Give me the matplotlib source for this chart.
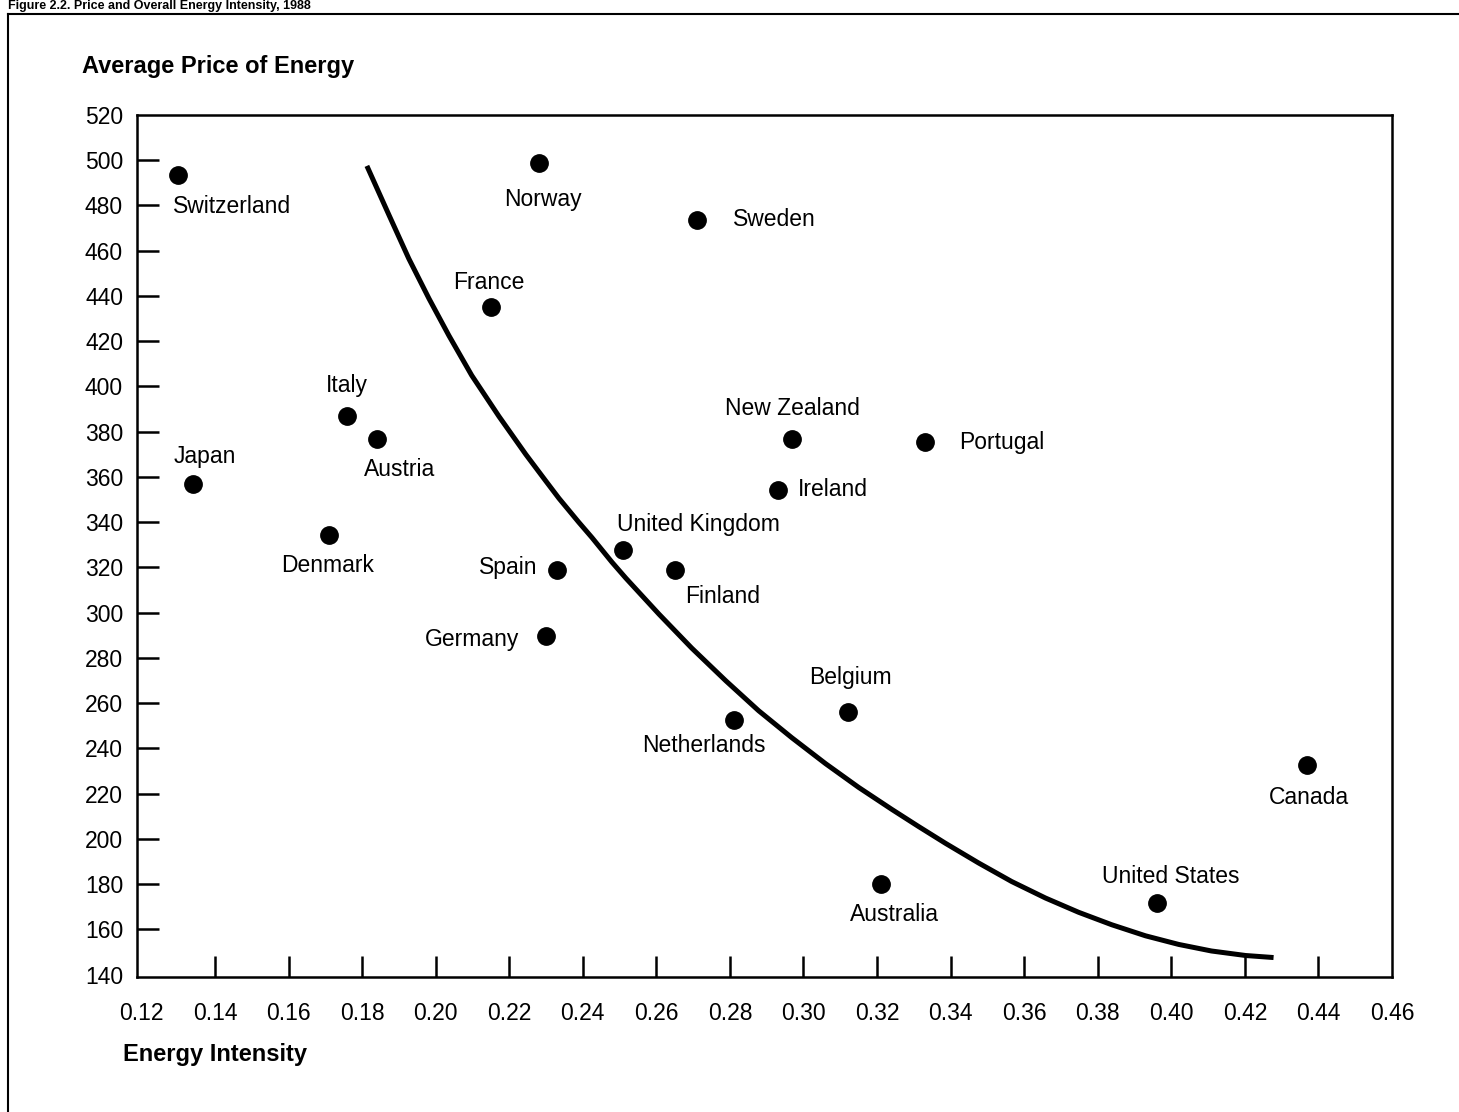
import matplotlib.pyplot as plt
from matplotlib.lines import Line2D

plt.rcParams['font.family'] = ['Liberation Sans', 'DejaVu Sans']

# Country data: energy intensity vs average price of energy
countries = ["Switzerland", "Norway", "Sweden", "France", "Italy", "Austria",
             "Japan", "Denmark", "New Zealand", "Portugal", "Ireland",
             "United Kingdom", "Spain", "Finland", "Germany", "Belgium",
             "Netherlands", "Canada", "Australia", "United States"]
intensity = [0.130, 0.228, 0.271, 0.215, 0.176, 0.184,
             0.134, 0.171, 0.297, 0.333, 0.293,
             0.251, 0.233, 0.265, 0.230, 0.312,
             0.281, 0.437, 0.321, 0.396]
price = [493.5, 498.8, 473.7, 435.3, 386.8, 376.7,
         356.8, 334.3, 376.7, 375.3, 354.1,
         327.7, 318.9, 318.9, 289.7, 256.2,
         252.7, 232.9, 180.0, 171.6]

# Fitted curve
curve_x = [0.1813, 0.1873, 0.1927, 0.1982, 0.2036, 0.2098, 0.2172, 0.2245,
           0.2300, 0.2335, 0.2389, 0.2425, 0.2479, 0.2517, 0.2607, 0.2696,
           0.2789, 0.2878, 0.2968, 0.3060, 0.3150, 0.3240, 0.3313, 0.3386,
           0.3476, 0.3566, 0.3658, 0.3748, 0.3838, 0.3930, 0.4020, 0.4109,
           0.4202, 0.4278]
curve_y = [497.5, 475.8, 456.5, 438.8, 422.5, 404.9, 386.8, 370.0,
           358.1, 350.6, 340.0, 333.2, 322.4, 315.3, 299.4, 284.4,
           269.9, 256.7, 244.8, 233.3, 222.8, 213.1, 205.5, 198.1,
           189.4, 181.2, 173.9, 167.6, 162.1, 157.2, 153.4, 150.5,
           148.5, 147.6]

x_ticks = [0.12, 0.14, 0.16, 0.18, 0.20, 0.22, 0.24, 0.26, 0.28, 0.30,
           0.32, 0.34, 0.36, 0.38, 0.40, 0.42, 0.44, 0.46]
y_ticks = list(range(140, 521, 20))

# label placement: (dx, dy in pixels, horizontal alignment)
label_pos = {
    "Switzerland": (54, -32, "center"),
    "Norway": (4, -37, "center"),
    "Sweden": (36, 0, "left"),
    "France": (-2, 24, "center"),
    "Italy": (-1, 31, "center"),
    "Austria": (23, -30, "center"),
    "Japan": (12, 28, "center"),
    "Denmark": (-1, -30, "center"),
    "New Zealand": (0, 31, "center"),
    "Portugal": (34, 0, "left"),
    "Ireland": (20, 1, "left"),
    "United Kingdom": (-6, 26, "left"),
    "Spain": (-20, 2, "right"),
    "Finland": (48, -27, "center"),
    "Germany": (-27, -3, "right"),
    "Belgium": (3, 34, "center"),
    "Netherlands": (-30, -26, "center"),
    "Canada": (2, -33, "center"),
    "Australia": (14, -30, "center"),
    "United States": (14, 27, "center"),
}

fig = plt.figure(figsize=(14.59, 11.12), dpi=100)
ax = fig.add_axes([137 / 1459, 1 - 977 / 1112, 1255 / 1459, 862 / 1112])

ax.plot(curve_x, curve_y, color="black", lw=3.6, solid_capstyle="butt",
        solid_joinstyle="round")
ax.plot(intensity, price, "o", color="black", markersize=12.5)

for name, x, y in zip(countries, intensity, price):
    dx, dy, ha = label_pos[name]
    ax.annotate(name, (x, y), xytext=(dx, dy), textcoords="offset pixels",
                ha=ha, va="center", fontsize=16.5)

ax.set_xlim(0.1188, 0.4596)
ax.set_ylim(139.0, 519.3)
ax.set_xticks(x_ticks)
ax.set_xticklabels([f"{v:.2f}" for v in x_ticks])
ax.set_yticks(y_ticks)
ax.set_yticklabels([str(v) for v in y_ticks])
ax.tick_params(axis="x", direction="in", length=15, width=1.8,
               labelsize=16.5, pad=18)
ax.tick_params(axis="y", direction="in", length=16, width=1.8,
               labelsize=16.5, pad=10)
# the end ticks sit on the frame, so no marks there
for axis in (ax.xaxis, ax.yaxis):
    ticks = axis.get_major_ticks()
    ticks[0].tick1line.set_visible(False)
    ticks[-1].tick1line.set_visible(False)
for s in ax.spines.values():
    s.set_linewidth(1.8)

fig.text(82 / 1459, 1 - 67 / 1112, "Average Price of Energy",
         fontsize=17, fontweight="bold", ha="left", va="center")
fig.text(123 / 1459, 1 - 1054 / 1112, "Energy Intensity",
         fontsize=17, fontweight="bold", ha="left", va="center")

# title squeezed into the strip above the frame
fig.text(8 / 1459, 1.0, "Figure 2.2. Price and Overall Energy Intensity, 1988",
         fontsize=9, fontweight="bold", ha="left", va="top")

# outer frame
frame_top = 1 - 14 / 1112
fig.add_artist(Line2D([8 / 1459, 8 / 1459], [0, frame_top],
                      transform=fig.transFigure, color="black", lw=1.5))
fig.add_artist(Line2D([8 / 1459, 1], [frame_top, frame_top],
                      transform=fig.transFigure, color="black", lw=1.5))

fig.savefig("out.png", dpi=100)
